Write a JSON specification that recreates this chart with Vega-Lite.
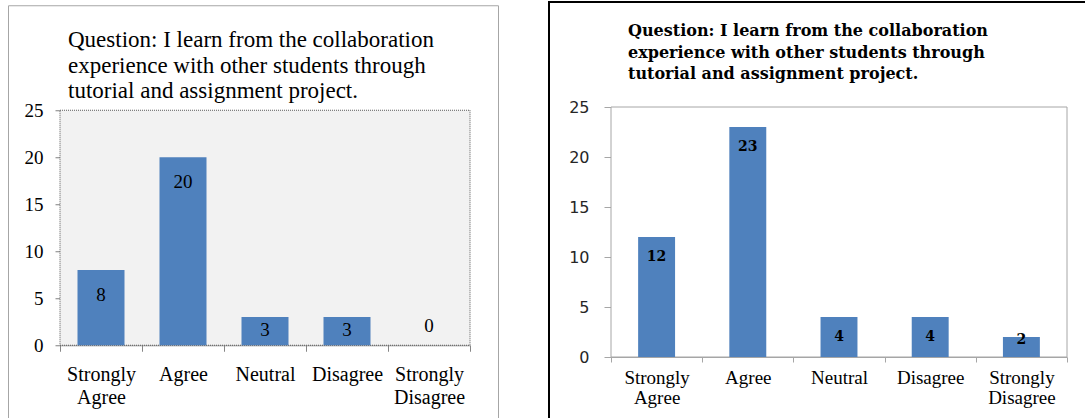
{
  "$schema": "https://vega.github.io/schema/vega-lite/v6.json",
  "background": "white",
  "padding": {"left": 7, "top": 1, "right": 0, "bottom": 0},
  "spacing": 49,
  "center": true,
  "datasets": {
    "y2011": [
      {"response": "Strongly Agree", "count": 8},
      {"response": "Agree", "count": 20},
      {"response": "Neutral", "count": 3},
      {"response": "Disagree", "count": 3},
      {"response": "Strongly Disagree", "count": 0}
    ],
    "y2012": [
      {"response": "Strongly Agree", "count": 12},
      {"response": "Agree", "count": 23},
      {"response": "Neutral", "count": 4},
      {"response": "Disagree", "count": 4},
      {"response": "Strongly Disagree", "count": 2}
    ]
  },
  "config": {
    "view": {"stroke": null},
    "axis": {"grid": false}
  },
  "hconcat": [
    {
      "width": 490,
      "height": 420,
      "view": {"stroke": "#a6a6a6", "strokeWidth": 1, "fill": null},
      "title": {
        "text": ["Question:  I learn from the collaboration", "experience  with other students through", "tutorial  and assignment  project."],
        "anchor": "start",
        "frame": "group",
        "dx": 60,
        "offset": -98,
        "font": "Liberation Serif",
        "fontSize": 23,
        "fontWeight": "normal",
        "lineHeight": 25.5,
        "color": "black"
      },
      "resolve": {"scale": {"x": "independent"}},
      "layer": [
        {
          "data": {"values": [{}]},
          "mark": {"type": "rect", "fill": "#f2f2f2", "stroke": "#595959", "strokeWidth": 1, "strokeDash": [1, 1]},
          "encoding": {
            "x": {"datum": 0, "type": "quantitative", "scale": {"domain": [0, 1], "range": [52, 462]}, "axis": null},
            "x2": {"datum": 1},
            "y": {"datum": 0, "type": "quantitative"},
            "y2": {"datum": 25}
          }
        },
        {
          "data": {"name": "y2011"},
          "encoding": {
            "x": {
              "field": "response",
              "type": "nominal",
              "sort": ["Strongly Agree", "Agree", "Neutral", "Disagree", "Strongly Disagree"],
              "scale": {"range": [52, 462], "paddingInner": 0, "paddingOuter": 0},
              "axis": {
                "title": null,
                "labelAngle": 0,
                "tickBand": "extent",
                "offset": -80,
                "domainColor": "#868686",
                "tickColor": "#868686",
                "tickSize": 6,
                "labelFont": "Liberation Serif",
                "labelFontSize": 20,
                "labelColor": "black",
                "labelPadding": 13,
                "labelLineHeight": 23,
                "labelOverlap": false,
                "labelExpr": "split(datum.label, ' ')"
              }
            },
            "y": {
              "field": "count",
              "type": "quantitative",
              "scale": {"domain": [0, 25], "range": [340, 105], "nice": false},
              "axis": {
                "title": null,
                "values": [0, 5, 10, 15, 20, 25],
                "offset": -52,
                "domainColor": "#808080",
                "tickColor": "#808080",
                "tickSize": 5,
                "labelFont": "Liberation Serif",
                "labelFontSize": 19,
                "labelColor": "black",
                "labelPadding": 12
              }
            }
          },
          "layer": [
            {"mark": {"type": "bar", "color": "#4f81bd", "width": {"band": 0.573}}},
            {
              "transform": [{"filter": "datum.count >= 5"}],
              "mark": {"type": "text", "baseline": "middle", "dy": 25, "font": "Liberation Serif", "fontSize": 19, "color": "black"},
              "encoding": {"text": {"field": "count"}}
            },
            {
              "transform": [{"filter": "datum.count > 0 && datum.count < 5"}],
              "mark": {"type": "text", "baseline": "middle", "dy": 12.5, "font": "Liberation Serif", "fontSize": 19, "color": "black"},
              "encoding": {"text": {"field": "count"}}
            },
            {
              "transform": [{"filter": "datum.count == 0"}],
              "mark": {"type": "text", "baseline": "middle", "dy": -19, "font": "Liberation Serif", "fontSize": 19, "color": "black"},
              "encoding": {"text": {"field": "count"}}
            },
            {
              "data": {"values": [{"year": "2011"}]},
              "mark": {"type": "text", "align": "center", "baseline": "alphabetic", "dx": 40.5, "font": "Liberation Sans", "fontSize": 27, "color": "black"},
              "encoding": {
                "x": {"datum": "Disagree"},
                "y": {"datum": 18.5},
                "text": {"field": "year"}
              }
            }
          ]
        }
      ]
    },
    {
      "width": 560,
      "height": 426,
      "view": {"stroke": "black", "strokeWidth": 2, "fill": null},
      "title": {
        "text": ["Question: I learn from the collaboration", "experience with other students through", "tutorial and assignment project."],
        "anchor": "start",
        "frame": "group",
        "dx": 79,
        "offset": -80,
        "font": "DejaVu Serif",
        "fontSize": 16,
        "fontWeight": "bold",
        "lineHeight": 21.3,
        "color": "black"
      },
      "resolve": {"scale": {"x": "independent"}},
      "layer": [
        {
          "data": {"values": [{}]},
          "mark": {"type": "rect", "fill": "white", "stroke": "#a6a6a6", "strokeWidth": 1},
          "encoding": {
            "x": {"datum": 0, "type": "quantitative", "scale": {"domain": [0, 1], "range": [62, 518]}, "axis": null},
            "x2": {"datum": 1},
            "y": {"datum": 0, "type": "quantitative"},
            "y2": {"datum": 25}
          }
        },
        {
          "data": {"name": "y2012"},
          "encoding": {
            "x": {
              "field": "response",
              "type": "nominal",
              "sort": ["Strongly Agree", "Agree", "Neutral", "Disagree", "Strongly Disagree"],
              "scale": {"range": [62, 518], "paddingInner": 0, "paddingOuter": 0},
              "axis": {
                "title": null,
                "labelAngle": 0,
                "tickBand": "extent",
                "offset": -71,
                "domainColor": "#a6a6a6",
                "tickColor": "#a6a6a6",
                "tickSize": 5,
                "labelFont": "Liberation Serif",
                "labelFontSize": 19,
                "labelColor": "black",
                "labelPadding": 6,
                "labelLineHeight": 20,
                "labelOverlap": false,
                "labelExpr": "split(datum.label, ' ')"
              }
            },
            "y": {
              "field": "count",
              "type": "quantitative",
              "scale": {"domain": [0, 25], "range": [355, 105], "nice": false},
              "axis": {
                "title": null,
                "values": [0, 5, 10, 15, 20, 25],
                "offset": -62,
                "domainColor": "#a6a6a6",
                "tickColor": "#a6a6a6",
                "tickSize": 7,
                "labelFont": "DejaVu Sans",
                "labelFontSize": 16,
                "labelColor": "#262626",
                "labelPadding": 15
              }
            }
          },
          "layer": [
            {"mark": {"type": "bar", "color": "#4f81bd", "width": {"band": 0.405}}},
            {
              "transform": [{"filter": "datum.count >= 3"}],
              "mark": {"type": "text", "baseline": "middle", "dy": 20, "font": "DejaVu Serif", "fontWeight": "bold", "fontSize": 14, "color": "black"},
              "encoding": {"text": {"field": "count"}}
            },
            {
              "transform": [{"filter": "datum.count < 3"}],
              "mark": {"type": "text", "baseline": "middle", "dy": 3, "font": "DejaVu Serif", "fontWeight": "bold", "fontSize": 14, "color": "black"},
              "encoding": {"text": {"field": "count"}}
            },
            {
              "data": {"values": [{"year": "2012"}]},
              "mark": {"type": "text", "align": "center", "baseline": "alphabetic", "dx": 64, "font": "Liberation Sans", "fontSize": 29, "color": "black"},
              "encoding": {
                "x": {"datum": "Disagree"},
                "y": {"datum": 19.4},
                "text": {"field": "year"}
              }
            }
          ]
        }
      ]
    }
  ]
}
